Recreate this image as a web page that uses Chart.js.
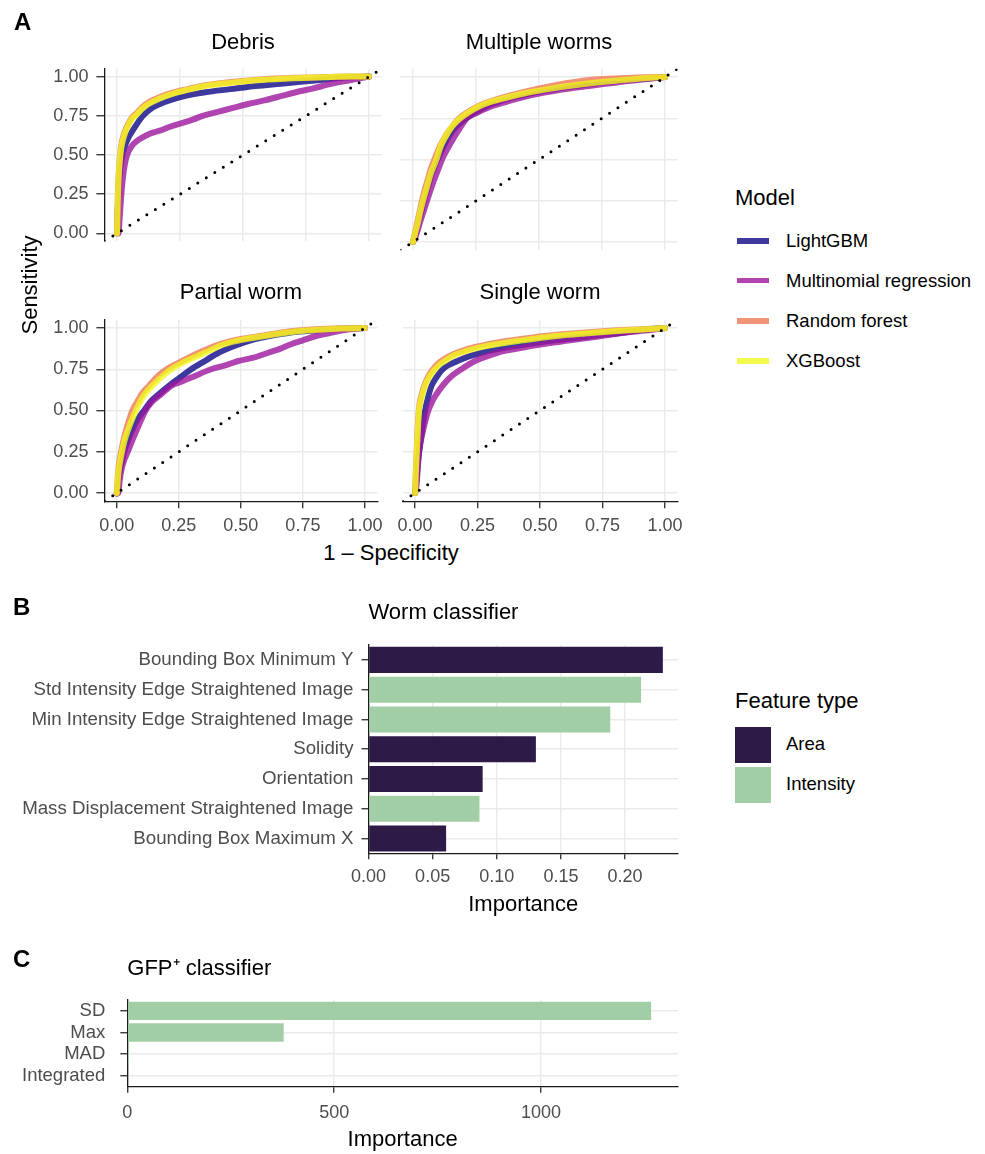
<!DOCTYPE html>
<html>
<head>
<meta charset="utf-8">
<script src="https://cdn.jsdelivr.net/npm/chart.js@4.4.1/dist/chart.umd.min.js"></script>
<style>
  body { margin: 0; background: #fff; width: 985px; height: 1154px; position: relative; overflow: hidden;
         font-family: "Liberation Sans", Arial, Helvetica, sans-serif; }
  canvas { position: absolute; }
  .txt { position: absolute; white-space: nowrap; line-height: 1; }
  .sw { position: absolute; }
</style>
</head>
<body>
<script>
const FONT = '"Liberation Sans", Arial, Helvetica, sans-serif'
Chart.defaults.font.family = FONT

const models = ['LightGBM', 'Multinomial regression', 'Random forest', 'XGBoost']
const modelColors = ['rgba(13,8,135,0.8)', 'rgba(156,23,158,0.8)', 'rgba(237,121,83,0.8)', 'rgba(240,249,33,0.8)']
const rocTicks = [0, 0.25, 0.5, 0.75, 1]

// [1 - specificity, sensitivity]
const debrisLightGBM = [[0,0],[0.003,0.15],[0.006,0.27],[0.01,0.37],[0.015,0.44],[0.02,0.49],[0.03,0.55],[0.045,0.61],[0.06,0.65],[0.08,0.7],[0.1,0.745],[0.13,0.79],[0.17,0.825],[0.22,0.855],[0.28,0.88],[0.35,0.9],[0.45,0.92],[0.55,0.94],[0.65,0.955],[0.75,0.97],[0.85,0.985],[0.93,0.995],[1,1]]
const debrisMultinomial = [[0,0],[0.006,0],[0.01,0.08],[0.015,0.2],[0.02,0.3],[0.027,0.4],[0.035,0.47],[0.045,0.52],[0.06,0.56],[0.08,0.59],[0.1,0.61],[0.13,0.635],[0.17,0.655],[0.21,0.68],[0.25,0.7],[0.3,0.725],[0.34,0.75],[0.4,0.775],[0.46,0.8],[0.52,0.825],[0.59,0.85],[0.65,0.875],[0.71,0.9],[0.78,0.925],[0.84,0.95],[0.9,0.97],[0.95,0.985],[1,1]]
const debrisRandomForest = [[0,0],[0.003,0.22],[0.006,0.36],[0.01,0.46],[0.015,0.54],[0.02,0.59],[0.03,0.645],[0.045,0.7],[0.06,0.74],[0.08,0.77],[0.1,0.805],[0.13,0.84],[0.17,0.87],[0.22,0.897],[0.28,0.92],[0.35,0.945],[0.45,0.965],[0.57,0.982],[0.7,0.992],[0.82,0.997],[0.92,1],[1,1]]
const debrisXGBoost = [[0,0],[0.003,0.2],[0.006,0.34],[0.01,0.44],[0.015,0.52],[0.02,0.57],[0.03,0.63],[0.045,0.69],[0.06,0.73],[0.08,0.76],[0.1,0.795],[0.13,0.83],[0.17,0.86],[0.22,0.89],[0.28,0.915],[0.35,0.94],[0.45,0.96],[0.57,0.978],[0.7,0.99],[0.82,0.996],[0.92,1],[1,1]]

const multipleLightGBM = [[0,0],[0.01,0.05],[0.02,0.11],[0.03,0.17],[0.04,0.23],[0.055,0.31],[0.07,0.39],[0.095,0.49],[0.115,0.56],[0.135,0.62],[0.16,0.68],[0.19,0.725],[0.23,0.77],[0.27,0.805],[0.31,0.835],[0.37,0.865],[0.45,0.895],[0.54,0.922],[0.64,0.945],[0.73,0.962],[0.82,0.977],[0.92,0.99],[1,1]]
const multipleMultinomial = [[0,0],[0.01,0.03],[0.02,0.08],[0.03,0.13],[0.045,0.2],[0.06,0.27],[0.08,0.36],[0.1,0.44],[0.115,0.5],[0.135,0.56],[0.165,0.64],[0.19,0.7],[0.21,0.745],[0.25,0.78],[0.3,0.815],[0.36,0.845],[0.43,0.875],[0.52,0.905],[0.62,0.93],[0.72,0.95],[0.82,0.97],[0.92,0.987],[1,1]]
const multipleRandomForest = [[0,0],[0.01,0.07],[0.02,0.14],[0.03,0.21],[0.04,0.28],[0.055,0.36],[0.07,0.44],[0.09,0.52],[0.11,0.59],[0.13,0.645],[0.155,0.7],[0.18,0.745],[0.225,0.795],[0.26,0.825],[0.3,0.85],[0.36,0.878],[0.44,0.91],[0.53,0.94],[0.62,0.965],[0.72,0.985],[0.82,0.993],[0.92,0.998],[1,1]]
const multipleXGBoost = [[0,0],[0.01,0.06],[0.02,0.12],[0.03,0.19],[0.04,0.25],[0.055,0.33],[0.07,0.41],[0.093,0.5],[0.11,0.58],[0.13,0.64],[0.155,0.7],[0.18,0.74],[0.225,0.79],[0.26,0.82],[0.3,0.845],[0.36,0.87],[0.44,0.9],[0.53,0.925],[0.64,0.95],[0.73,0.967],[0.82,0.98],[0.92,0.993],[1,1]]

const partialLightGBM = [[0,0],[0.005,0.06],[0.01,0.12],[0.02,0.19],[0.03,0.25],[0.045,0.32],[0.065,0.39],[0.085,0.45],[0.11,0.5],[0.14,0.56],[0.17,0.6],[0.21,0.65],[0.255,0.7],[0.3,0.75],[0.355,0.8],[0.41,0.85],[0.49,0.9],[0.55,0.93],[0.61,0.95],[0.69,0.97],[0.8,0.985],[0.9,0.995],[1,1]]
const partialMultinomial = [[0,-0.005],[0.006,0],[0.012,0.08],[0.02,0.15],[0.03,0.2],[0.044,0.25],[0.06,0.31],[0.08,0.38],[0.1,0.45],[0.116,0.5],[0.14,0.55],[0.18,0.6],[0.22,0.65],[0.26,0.675],[0.3,0.7],[0.38,0.75],[0.44,0.775],[0.49,0.8],[0.55,0.82],[0.61,0.85],[0.66,0.875],[0.7,0.9],[0.75,0.925],[0.8,0.95],[0.86,0.97],[0.93,0.99],[1,1]]
const partialRandomForest = [[0,0],[0.004,0.1],[0.008,0.17],[0.017,0.25],[0.03,0.34],[0.045,0.42],[0.063,0.5],[0.085,0.56],[0.105,0.61],[0.13,0.65],[0.16,0.7],[0.2,0.75],[0.25,0.79],[0.33,0.85],[0.41,0.9],[0.49,0.93],[0.57,0.95],[0.64,0.967],[0.7,0.98],[0.8,0.992],[0.9,0.998],[1,1]]
const partialXGBoost = [[0,0],[0.004,0.08],[0.008,0.14],[0.017,0.22],[0.03,0.31],[0.045,0.38],[0.06,0.44],[0.077,0.5],[0.1,0.57],[0.13,0.63],[0.17,0.69],[0.22,0.75],[0.28,0.8],[0.355,0.85],[0.43,0.9],[0.51,0.93],[0.59,0.95],[0.66,0.967],[0.73,0.98],[0.82,0.99],[0.91,0.997],[1,1]]

const singleLightGBM = [[0,0],[0.005,0.08],[0.01,0.17],[0.018,0.27],[0.027,0.37],[0.04,0.5],[0.052,0.58],[0.066,0.65],[0.085,0.7],[0.11,0.75],[0.14,0.78],[0.17,0.8],[0.21,0.825],[0.265,0.85],[0.34,0.875],[0.44,0.9],[0.56,0.925],[0.7,0.95],[0.82,0.97],[0.92,0.99],[1,1]]
const singleMultinomial = [[0,0],[0.006,0.05],[0.011,0.15],[0.016,0.25],[0.025,0.33],[0.035,0.4],[0.045,0.46],[0.053,0.5],[0.07,0.56],[0.086,0.6],[0.11,0.65],[0.14,0.7],[0.185,0.75],[0.24,0.8],[0.33,0.85],[0.41,0.875],[0.5,0.9],[0.62,0.925],[0.74,0.95],[0.86,0.975],[0.95,0.99],[1,1]]
const singleRandomForest = [[0,0],[0.003,0.14],[0.007,0.28],[0.011,0.41],[0.016,0.52],[0.025,0.59],[0.04,0.665],[0.06,0.725],[0.08,0.765],[0.1,0.795],[0.12,0.815],[0.15,0.84],[0.185,0.86],[0.24,0.885],[0.32,0.91],[0.43,0.935],[0.556,0.958],[0.68,0.973],[0.795,0.985],[0.9,0.993],[1,1]]
const singleXGBoost = [[0,0],[0.003,0.12],[0.007,0.25],[0.011,0.38],[0.016,0.5],[0.025,0.57],[0.04,0.65],[0.06,0.71],[0.08,0.75],[0.1,0.78],[0.12,0.8],[0.15,0.83],[0.185,0.85],[0.24,0.875],[0.32,0.9],[0.43,0.925],[0.556,0.95],[0.68,0.967],[0.795,0.98],[0.9,0.99],[1,1]]

// panel B
const featureLabels = ['Bounding Box Minimum Y', 'Std Intensity Edge Straightened Image', 'Min Intensity Edge Straightened Image', 'Solidity', 'Orientation', 'Mass Displacement Straightened Image', 'Bounding Box Maximum X']
const featureImportance = [0.2295, 0.2125, 0.1885, 0.1305, 0.089, 0.0865, 0.0605]
const featureType = ['Area', 'Intensity', 'Intensity', 'Area', 'Area', 'Intensity', 'Area']
const wormTicks = [0, 0.05, 0.1, 0.15, 0.2]

// panel C
const gfpLabels = ['SD', 'Max', 'MAD', 'Integrated']
const gfpImportance = [1266, 378, 4, 0]
const gfpTicks = [0, 500, 1000]

const typeNames = ['Area', 'Intensity']
const typeColors = { Area: '#2e1a47', Intensity: '#a2cea6' }

const GRID = '#ebebeb'
const AXIS = '#1a1a1a'
const TICKTXT = '#4d4d4d'

function addCanvas(l, t, w, h) {
  const c = document.createElement('canvas')
  c.width = w
  c.height = h
  c.style.left = l + 'px'
  c.style.top = t + 'px'
  document.body.appendChild(c)
  return c
}

function label(text, x, y, o = {}) {
  const d = document.createElement('div')
  d.className = 'txt'
  d.textContent = text
  d.style.left = x + 'px'
  d.style.top = y + 'px'
  d.style.fontSize = (o.size || 18) + 'px'
  d.style.fontWeight = o.bold ? 'bold' : 'normal'
  d.style.color = o.color || '#000'
  let tr = o.center ? 'translate(-50%,-50%)' : 'translate(0,-50%)'
  if (o.rotate) tr += ' rotate(-90deg)'
  d.style.transform = tr
  document.body.appendChild(d)
}

function fixedTicks(list) {
  return s => { s.ticks = list.map(v => ({ value: v })) }
}

function rocChart(p) {
  const r = p.rect, a = p.area
  const cv = addCanvas(r.l, r.t, r.w, r.h)
  const titleTop = p.titleY - 13.2 - r.t
  const datasets = [{
    data: [{ x: -0.05, y: -0.05 }, { x: 1.05, y: 1.05 }],
    borderColor: '#000', borderWidth: 3, borderDash: [0, 10], borderCapStyle: 'round', pointRadius: 0
  }]
  for (let i = models.length - 1; i >= 0; i--) {
    datasets.push({
      label: models[i],
      data: p.curves[i].map(([x, y]) => ({ x, y })),
      borderColor: modelColors[i], borderWidth: 6, pointRadius: 0,
      borderJoinStyle: 'round', borderCapStyle: 'round', cubicInterpolationMode: 'monotone'
    })
  }
  new Chart(cv, {
    type: 'line',
    data: { datasets },
    options: {
      responsive: false, animation: false, events: [],
      layout: { padding: { left: 0, top: 0, right: r.l + r.w - a.r, bottom: 0 } },
      plugins: {
        legend: { display: false }, tooltip: { enabled: false },
        title: {
          display: true, text: p.title, fullSize: false, color: '#000',
          font: { size: 22, weight: 'normal' },
          padding: { top: titleTop, bottom: a.t - r.t - 26.4 - titleTop }
        }
      },
      scales: {
        x: {
          type: 'linear', min: -0.05, max: 1.05,
          afterBuildTicks: fixedTicks(rocTicks),
          afterFit: s => { s.height = r.t + r.h - a.b },
          grid: { color: GRID, lineWidth: 1.5, drawTicks: p.showX, tickLength: 7, tickColor: AXIS, tickWidth: 1.2 },
          border: { display: p.showX, color: AXIS, width: 1.3 },
          ticks: { display: p.showX, color: TICKTXT, font: { size: 18 }, padding: 7, maxRotation: 0, callback: v => v.toFixed(2) }
        },
        y: {
          type: 'linear', min: -0.05, max: 1.05,
          afterBuildTicks: fixedTicks(rocTicks),
          afterFit: s => { s.width = a.l - r.l },
          grid: { color: GRID, lineWidth: 1.5, drawTicks: p.showY, tickLength: 8, tickColor: AXIS, tickWidth: 1.2 },
          border: { display: p.showY, color: AXIS, width: 1.3 },
          ticks: { display: p.showY, color: TICKTXT, font: { size: 18 }, padding: 8, callback: v => v.toFixed(2) }
        }
      }
    }
  })
}

const leftArea = { l: 104.4, r: 381.6 }
const rightArea = { l: 400.4, r: 677.6 }
const topArea = { t: 68.75, b: 250.25 }
const botArea = { t: 319.75, b: 501.25 }

const rocPanels = [
  { title: 'Debris', curves: [debrisLightGBM, debrisMultinomial, debrisRandomForest, debrisXGBoost],
    rect: { l: 0, t: 20, w: 390, h: 240 }, area: { ...leftArea, ...topArea }, titleY: 42.5, showX: false, showY: true },
  { title: 'Multiple worms', curves: [multipleLightGBM, multipleMultinomial, multipleRandomForest, multipleXGBoost],
    rect: { l: 390, t: 20, w: 300, h: 240 }, area: { ...rightArea, ...topArea }, titleY: 42.5, showX: false, showY: false },
  { title: 'Partial worm', curves: [partialLightGBM, partialMultinomial, partialRandomForest, partialXGBoost],
    rect: { l: 0, t: 270, w: 390, h: 270 }, area: { ...leftArea, ...botArea }, titleY: 292.5, showX: true, showY: true },
  { title: 'Single worm', curves: [singleLightGBM, singleMultinomial, singleRandomForest, singleXGBoost],
    rect: { l: 390, t: 270, w: 300, h: 270 }, area: { ...rightArea, ...botArea }, titleY: 292.5, showX: true, showY: false }
]
rocPanels.forEach(rocChart)

label('Sensitivity', 30, 285, { size: 22, center: true, rotate: true })
label('1 \u2013 Specificity', 391, 553, { size: 22, center: true })

// model legend
label('Model', 735, 197.5, { size: 22 })
const legendY = [241, 280.5, 321, 361]
models.forEach((m, i) => {
  const s = document.createElement('div')
  s.className = 'sw'
  s.style.cssText = `left:737px;top:${legendY[i] - 2.75}px;width:32px;height:5.5px;background:${modelColors[i]}`
  document.body.appendChild(s)
  label(m, 786, legendY[i], { size: 18.5 })
})

// bar chart helper
function barChart(p) {
  const r = p.rect, a = p.area
  const cv = addCanvas(r.l, r.t, r.w, r.h)
  const titleTop = p.titleY - 13.2 - r.t
  new Chart(cv, {
    type: 'bar',
    data: {
      labels: p.labels,
      datasets: [{ data: p.values, backgroundColor: p.colors, barPercentage: p.barPct, categoryPercentage: 1 }]
    },
    options: {
      indexAxis: 'y', responsive: false, animation: false, events: [],
      layout: { padding: { left: 0, top: 0, right: r.l + r.w - a.r, bottom: 0 } },
      plugins: {
        legend: { display: false }, tooltip: { enabled: false },
        title: {
          display: true, text: p.title, fullSize: false, align: 'start', color: '#000',
          font: { size: 22, weight: 'normal' },
          padding: { top: titleTop, bottom: a.t - r.t - 26.4 - titleTop }
        }
      },
      scales: {
        x: {
          type: 'linear', min: 0, max: p.xMax,
          afterBuildTicks: fixedTicks(p.ticks),
          afterFit: s => { s.height = r.t + r.h - a.b },
          grid: { color: GRID, lineWidth: 1.5, tickLength: 6, tickColor: AXIS, tickWidth: 1.2 },
          border: { color: AXIS, width: 1.3 },
          ticks: { color: TICKTXT, font: { size: 18 }, padding: p.xPad, maxRotation: 0, callback: p.fmt },
          title: { display: true, text: 'Importance', color: '#000', font: { size: 22 },
                   padding: { top: 0, bottom: r.t + r.h - p.xTitleY - 13.2 } }
        },
        y: {
          afterFit: s => { s.width = a.l - r.l },
          grid: { color: GRID, lineWidth: 1.5, offset: false, tickLength: 7, tickColor: AXIS, tickWidth: 1.2 },
          border: { color: AXIS, width: 1.3 },
          ticks: { color: TICKTXT, font: { size: p.ySize }, padding: p.yPad, autoSkip: false }
        }
      }
    }
  })
}

barChart({
  title: 'Worm classifier', labels: featureLabels, values: featureImportance,
  colors: featureType.map(t => typeColors[t]), barPct: 0.874,
  rect: { l: 0, t: 590, w: 690, h: 340 }, area: { l: 368.5, t: 645, r: 678, b: 853.3 },
  titleY: 613, xTitleY: 905, xMax: 0.2413, ticks: wormTicks, xPad: 6.6, yPad: 8, ySize: 18.7,
  fmt: v => v.toFixed(2)
})

barChart({
  title: 'GFP\u207A classifier', labels: gfpLabels, values: gfpImportance,
  colors: gfpLabels.map(() => typeColors.Intensity), barPct: 0.845,
  rect: { l: 0, t: 935, w: 690, h: 219 }, area: { l: 127.3, t: 1000, r: 678, b: 1086.7 },
  titleY: 969, xTitleY: 1140, xMax: 1331, ticks: gfpTicks, xPad: 9.5, yPad: 15, ySize: 18.5,
  fmt: v => String(v)
})

// feature type legend
label('Feature type', 735, 700.7, { size: 22 })
const swatchTop = [727, 767]
typeNames.forEach((t, i) => {
  const s = document.createElement('div')
  s.className = 'sw'
  s.style.cssText = `left:735px;top:${swatchTop[i]}px;width:36px;height:36px;background:${typeColors[t]}`
  document.body.appendChild(s)
  label(t, 786, swatchTop[i] + 17, { size: 18.5 })
})

// panel letters
label('A', 14, 21.5, { size: 24, bold: true })
label('B', 13, 607, { size: 24, bold: true })
label('C', 13, 959, { size: 24, bold: true })
</script>
</body>
</html>
